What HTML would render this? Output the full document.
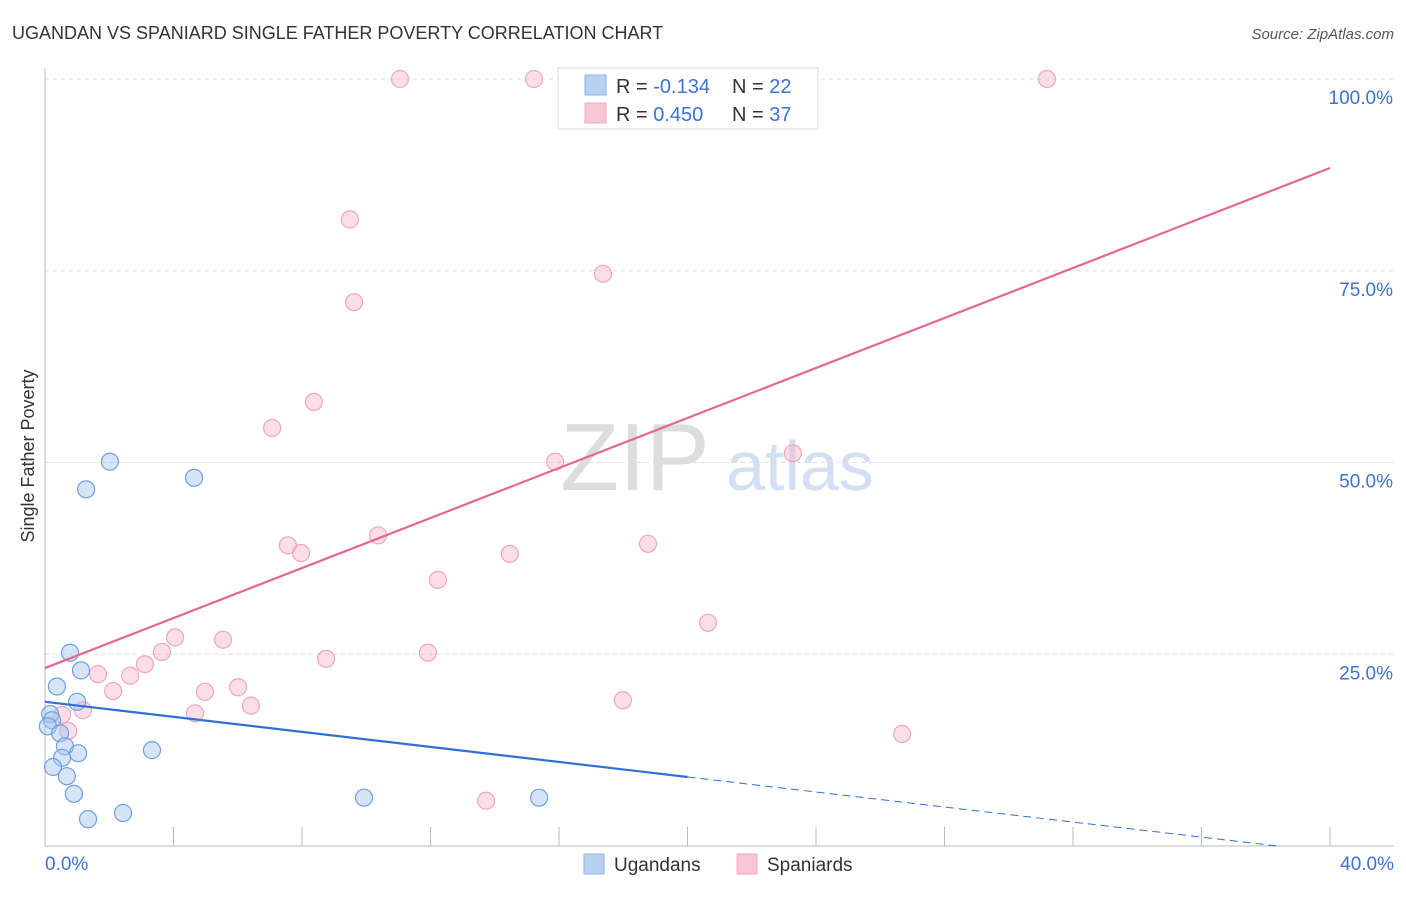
<!DOCTYPE html>
<html><head><meta charset="utf-8"><style>
body{margin:0;background:#fff;font-family:"Liberation Sans",sans-serif;}
svg text{font-family:"Liberation Sans",sans-serif;}
</style></head><body>
<svg id="chart" width="1406" height="892" xmlns="http://www.w3.org/2000/svg">
<text x="12" y="39" font-size="18" fill="#333">UGANDAN VS SPANIARD SINGLE FATHER POVERTY CORRELATION CHART</text>
<text x="1394" y="39" font-size="15" fill="#555" font-style="italic" text-anchor="end">Source: ZipAtlas.com</text>
<g>
<text x="635" y="490" font-size="96" fill="#ddd" font-family="Liberation Serif" text-anchor="middle">ZIP</text>
<text x="800" y="490" font-size="70" fill="#d3e0f3" text-anchor="middle">atlas</text>
</g>
<text transform="translate(34,456) rotate(-90)" font-size="18" fill="#333" text-anchor="middle">Single Father Poverty</text>
<g id="grid"></g>
<g id="axes"></g>
<g id="marks"></g>
<g>
<rect x="558" y="68" width="260" height="61" fill="#fff" stroke="#ddd"/>
<rect x="585" y="75" width="21" height="20" fill="#b9d0f3" stroke="#8fb0e6"/>
<rect x="585" y="103" width="21" height="20" fill="#f9c6d4" stroke="#f0a6bc"/>
<text x="616" y="93" font-size="20" fill="#333">R = <tspan fill="#3d72d1">-0.134</tspan><tspan x="732">N = </tspan><tspan fill="#3d72d1">22</tspan></text>
<text x="616" y="121" font-size="20" fill="#333">R = <tspan fill="#3d72d1"> 0.450</tspan><tspan x="732">N = </tspan><tspan fill="#3d72d1">37</tspan></text>
</g>
<g>
<rect x="584" y="854" width="20" height="20" fill="#b9d0f3" stroke="#8fb0e6"/>
<text x="614" y="871" font-size="19" fill="#333">Ugandans</text>
<rect x="737" y="854" width="20" height="20" fill="#f9c6d4" stroke="#f0a6bc"/>
<text x="767" y="871" font-size="19" fill="#333">Spaniards</text>
</g>
</svg>
<script>
const yTicks=[25,50,75,100];
const yTickLabels=["25.0%","50.0%","75.0%","100.0%"];
const xTicks=[0,4,8,12,16,20,24,28,32,36,40];
const blueX=[2.02,1.28,4.64,0.78,1.12,0.37,1.0,0.16,0.22,0.09,0.47,0.62,1.03,0.53,0.25,0.68,0.9,1.34,2.43,3.33,9.93,15.38];
const blueY=[50.1,46.5,48.0,25.2,22.9,20.8,18.8,17.2,16.4,15.6,14.7,13.0,12.1,11.5,10.3,9.1,6.8,3.5,4.3,12.5,6.3,6.3];
const pinkX=[11.05,15.22,31.19,16.97,9.49,17.37,9.62,8.37,7.07,15.88,23.28,10.37,7.56,7.97,18.77,14.47,12.23,20.64,4.05,5.54,3.64,8.75,11.92,3.11,1.65,2.65,2.12,4.98,6.01,6.41,4.67,1.18,0.53,0.72,17.99,26.68,13.73];
const pinkY=[100,100,100,100,81.7,74.6,70.9,57.9,54.5,50.1,51.2,40.5,39.2,38.2,39.4,38.1,34.7,29.1,27.2,26.9,25.3,24.4,25.2,23.7,22.4,22.2,20.2,20.1,20.7,18.3,17.3,17.7,17.1,15.0,19.0,14.6,5.9];
const pinkTrend=[23.2,88.4];
const blueTrend=[18.8,-0.8];
const NS="http://www.w3.org/2000/svg";
const X=v=>45+v*32.125, Y=v=>846-v*7.67;
function mk(t,a,p){const e=document.createElementNS(NS,t);for(const k in a)e.setAttribute(k,a[k]);p.appendChild(e);return e;}
const grid=document.getElementById('grid'),axes=document.getElementById('axes'),marks=document.getElementById('marks');
yTicks.forEach((v,i)=>{
 const l=mk('line',{x1:45,x2:1394,y1:Y(v),y2:Y(v),stroke:'#ddd','stroke-dasharray':'4,4'},grid);
 
 
 const t=mk('text',{x:1393,y:Y(v)+25,'font-size':19,fill:'#3d72d1','text-anchor':'end'},axes);
 t.textContent=yTickLabels[i];
 
 
});
mk('line',{x1:45,x2:45,y1:68,y2:846,stroke:'#bbb'},axes);
mk('line',{x1:45,x2:1394,y1:846,y2:846,stroke:'#bbb'},axes);
xTicks.forEach(v=>{const l=mk('line',{x1:X(v),x2:X(v),y1:827,y2:846,stroke:'#bbb'},axes);
 
 });
let t=mk('text',{x:45,y:870,'font-size':19,fill:'#3d72d1'},axes);t.textContent='0.0%';


t=mk('text',{x:1394,y:870,'font-size':19,fill:'#3d72d1','text-anchor':'end'},axes);t.textContent='40.0%';


pinkX.forEach((x,i)=>{const c=mk('circle',{cx:X(x),cy:Y(pinkY[i]),r:8.5,fill:'rgba(247,182,201,0.45)',stroke:'#f0a6bc','stroke-width':1.2},marks);
 
 });
blueX.forEach((x,i)=>{const c=mk('circle',{cx:X(x),cy:Y(blueY[i]),r:8.5,fill:'rgba(164,196,240,0.45)',stroke:'#6f9fe0','stroke-width':1.2},marks);
 
 });
let l=mk('line',{x1:X(0),y1:Y(pinkTrend[0]),x2:X(40),y2:Y(pinkTrend[1]),stroke:'#e5668f','stroke-width':2.2},marks);


const bY=x=>blueTrend[0]+(blueTrend[1]-blueTrend[0])*x/40;
l=mk('line',{x1:X(0),y1:Y(bY(0)),x2:X(20),y2:Y(bY(20)),stroke:'#2f6fd6','stroke-width':2.2},marks);


const x0=-blueTrend[0]*40/(blueTrend[1]-blueTrend[0]);
l=mk('line',{x1:X(20),y1:Y(bY(20)),x2:X(Math.min(40,x0)),y2:Y(Math.max(0,bY(Math.min(40,x0)))),stroke:'#2f6fd6','stroke-width':1,'stroke-dasharray':'8,5'},marks);


</script>
</body></html>
